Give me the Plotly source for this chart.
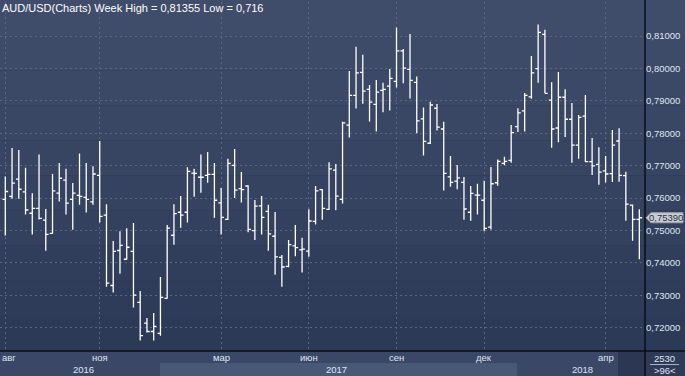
import plotly.graph_objects as go

# ---- data (weekly AUD/USD OHLC) ----
opens = [0.7596, 0.7605, 0.7658, 0.7619, 0.7553, 0.7568, 0.7532, 0.7491, 0.7615, 0.7655,
         0.7596, 0.7608, 0.7602, 0.7588, 0.7670, 0.7547, 0.7330, 0.7438, 0.7411, 0.7435,
         0.7278, 0.7214, 0.7188, 0.7182, 0.7290, 0.7485, 0.7556, 0.7556, 0.7677, 0.7664,
         0.7670, 0.7673, 0.7585, 0.7534, 0.7701, 0.7629, 0.7637, 0.7499, 0.7576, 0.7559,
         0.7482, 0.7417, 0.7389, 0.7452, 0.7440, 0.7436, 0.7528, 0.7626, 0.7565, 0.7686,
         0.7596, 0.7825, 0.7917, 0.7988, 0.7935, 0.7889, 0.7932, 0.7945, 0.7960, 0.8054,
         0.7997, 0.7957, 0.7844, 0.7769, 0.7877, 0.7813, 0.7665, 0.7652, 0.7648, 0.7556,
         0.7609, 0.7593, 0.7510, 0.7647, 0.7707, 0.7716, 0.7820, 0.7869, 0.7912, 0.7999,
         0.8105, 0.7902, 0.7816, 0.7911, 0.7843, 0.7763, 0.7853, 0.7712, 0.7704, 0.7684,
         0.7675, 0.7776, 0.7669, 0.7578, 0.7534]
highs = [0.7666, 0.7754, 0.7748, 0.7693, 0.7615, 0.7734, 0.7566, 0.7674, 0.7708, 0.7690,
         0.7646, 0.7737, 0.7708, 0.7698, 0.7776, 0.7581, 0.7467, 0.7497, 0.7507, 0.7523,
         0.7313, 0.7230, 0.7245, 0.7356, 0.7517, 0.7581, 0.7606, 0.7695, 0.7690, 0.7734,
         0.7742, 0.7708, 0.7631, 0.7721, 0.7751, 0.7680, 0.7639, 0.7594, 0.7606, 0.7579,
         0.7557, 0.7424, 0.7470, 0.7517, 0.7477, 0.7565, 0.7637, 0.7627, 0.7710, 0.7705,
         0.7835, 0.7992, 0.8067, 0.8042, 0.7949, 0.7964, 0.7956, 0.7998, 0.8126, 0.8060,
         0.8106, 0.7975, 0.7879, 0.7897, 0.7890, 0.7835, 0.7730, 0.7702, 0.7665, 0.7637,
         0.7644, 0.7653, 0.7696, 0.7719, 0.7727, 0.7825, 0.7877, 0.7924, 0.8038, 0.81355,
         0.8119, 0.7957, 0.7989, 0.7936, 0.7893, 0.7856, 0.7918, 0.7785, 0.7757, 0.7730,
         0.7810, 0.7815, 0.7681, 0.7580, 0.7565]
lows = [0.7484, 0.7598, 0.7598, 0.7549, 0.7487, 0.7534, 0.7437, 0.7490, 0.7589, 0.7549,
        0.7502, 0.7579, 0.7555, 0.7579, 0.7524, 0.7326, 0.7308, 0.7366, 0.7410, 0.7262,
        0.7160, 0.7185, 0.7160, 0.7175, 0.7289, 0.7456, 0.7508, 0.7524, 0.7604, 0.7616,
        0.7647, 0.7539, 0.7487, 0.7532, 0.7600, 0.7586, 0.7494, 0.7470, 0.7487, 0.7437,
        0.7363, 0.7326, 0.7386, 0.7420, 0.7370, 0.7419, 0.7518, 0.7533, 0.7563, 0.7562,
        0.7583, 0.7787, 0.7876, 0.7891, 0.7836, 0.7805, 0.7865, 0.7870, 0.7941, 0.7954,
        0.7907, 0.7800, 0.7731, 0.7767, 0.7808, 0.7623, 0.7635, 0.7627, 0.7533, 0.7530,
        0.7549, 0.7497, 0.7503, 0.7638, 0.7701, 0.7709, 0.7804, 0.7805, 0.7906, 0.7956,
        0.7923, 0.7755, 0.7772, 0.7788, 0.7709, 0.7721, 0.7711, 0.7671, 0.7641, 0.7648,
        0.7649, 0.7650, 0.7530, 0.7468, 0.7411]
closes = [0.7620, 0.7646, 0.7627, 0.7563, 0.7568, 0.7537, 0.7488, 0.7622, 0.7661, 0.7584,
          0.7615, 0.7605, 0.7596, 0.7674, 0.7543, 0.7337, 0.7435, 0.7454, 0.7448, 0.7300,
          0.7175, 0.7188, 0.7204, 0.7293, 0.7507, 0.7552, 0.7547, 0.7682, 0.7676, 0.7664,
          0.7673, 0.7593, 0.7540, 0.7707, 0.7624, 0.7626, 0.7503, 0.7575, 0.7540, 0.7489,
          0.7418, 0.7387, 0.7456, 0.7447, 0.7442, 0.7529, 0.7622, 0.7568, 0.7690, 0.7606,
          0.7832, 0.7917, 0.7986, 0.7930, 0.7896, 0.7927, 0.7935, 0.7969, 0.8054, 0.8001,
          0.7963, 0.7838, 0.7775, 0.7887, 0.7819, 0.7676, 0.7648, 0.7662, 0.7566, 0.7614,
          0.7609, 0.7506, 0.7644, 0.7713, 0.7713, 0.7802, 0.7863, 0.7917, 0.7986, 0.8111,
          0.7923, 0.7813, 0.7911, 0.7843, 0.7763, 0.7849, 0.7712, 0.7699, 0.7680, 0.7674,
          0.7763, 0.7670, 0.7581, 0.7534, 0.7539]
weeks = list(range(len(opens)))

month_idx = [0, 14, 32, 45, 58, 71, 89]
month_labels = ["авг", "ноя", "мар", "июн", "сен", "дек", "апр"]
year_labels = ["2016", "2017", "2018"]
price_ticks = [0.72, 0.73, 0.74, 0.75, 0.76, 0.77, 0.78, 0.79, 0.80, 0.81]
price_ticktext = ["0,72000", "0,73000", "0,74000", "0,75000", "0,76000",
                  "0,77000", "0,78000", "0,79000", "0,80000", "0,81000"]
last_price_text = "0,75390"
title_text = "AUD/USD(Charts) Week High = 0,81355 Low = 0,716"

# ---- layout geometry helpers (pixels -> paper) ----
W, H = 685, 376
ML, MR, MT, MB = 0, 40, 2, 25
PW, PH = W - ML - MR, H - MT - MB
def px(x):
    return (x - ML) / PW
def py(y):
    return (H - MB - y) / PH

FONT = "Liberation Sans, Arial, sans-serif"
TXT = "#dfe6f2"
GRID = "#5a6784"

fig = go.Figure(go.Ohlc(
    x=weeks, open=opens, high=highs, low=lows, close=closes,
    increasing=dict(line=dict(color="white", width=1.3)),
    decreasing=dict(line=dict(color="white", width=1.3)),
    tickwidth=0.42, hoverinfo="skip", showlegend=False,
))

shapes = []
# stepped vertical gradient background (plot + right axis)
grad = ["#3f4c6a", "#3d4a68", "#3b4866", "#394664", "#374462", "#354260",
        "#33405e", "#313e5b", "#2f3c59", "#2d3a57"]
n = len(grad)
for i, c in enumerate(grad):
    y0 = 0 + i * (351 / n)
    y1 = 0 + (i + 1) * (351 / n)
    shapes.append(dict(type="rect", xref="paper", yref="paper", layer="below",
                       x0=px(0), x1=px(W), y0=py(y1), y1=py(y0),
                       fillcolor=c, line=dict(width=0)))
# bottom time axis bands
shapes += [
    dict(type="rect", xref="paper", yref="paper", layer="below", x0=px(0), x1=px(645),
         y0=py(376), y1=py(351), fillcolor="#3a4766", line=dict(width=0)),
    dict(type="rect", xref="paper", yref="paper", layer="below", x0=px(160), x1=px(517),
         y0=py(376), y1=py(363), fillcolor="#4a5878", line=dict(width=0)),
    dict(type="rect", xref="paper", yref="paper", layer="below", x0=px(618), x1=px(645),
         y0=py(376), y1=py(351), fillcolor="#2c3753", line=dict(width=0)),
    dict(type="rect", xref="paper", yref="paper", layer="below", x0=px(645), x1=px(W),
         y0=py(376), y1=py(351), fillcolor="#2e3a56", line=dict(width=0)),
    # black frame lines
    dict(type="line", xref="paper", yref="paper", x0=px(645), x1=px(645),
         y0=py(376), y1=py(0), line=dict(color="#0a0e16", width=1.5)),
    dict(type="line", xref="paper", yref="paper", x0=px(0), x1=px(W),
         y0=py(351), y1=py(351), line=dict(color="#0a0e16", width=1.5)),
    # line between 2530 and >96<
    dict(type="line", xref="paper", yref="paper", x0=px(650), x1=px(679),
         y0=py(364.5), y1=py(364.5), line=dict(color="#aab4c8", width=1)),
]
# last price arrow label
lp_y = closes[-1]
shapes.append(dict(type="path", xref="paper", yref="y",
                   path=(f"M {px(646)},{lp_y} L {px(651)},{lp_y + 0.00155} "
                         f"L {px(683)},{lp_y + 0.00155} L {px(683)},{lp_y - 0.00155} "
                         f"L {px(651)},{lp_y - 0.00155} Z"),
                   fillcolor="#c9ccd3", line=dict(color="#9aa0ab", width=1)))

annotations = [
    dict(text=title_text, xref="paper", yref="paper", x=px(0), y=py(8),
         xanchor="left", yanchor="middle", showarrow=False,
         font=dict(family=FONT, size=11, color="white")),
    dict(text=last_price_text, xref="paper", yref="y", x=px(666), y=lp_y,
         xanchor="center", yanchor="middle", showarrow=False,
         font=dict(family=FONT, size=9.5, color="#2a3244")),
    dict(text="2530", xref="paper", yref="paper", x=px(664.5), y=py(358),
         xanchor="center", yanchor="middle", showarrow=False,
         font=dict(family=FONT, size=9.5, color=TXT)),
    dict(text="&gt;96&lt;", xref="paper", yref="paper", x=px(664.5), y=py(370.5),
         xanchor="center", yanchor="middle", showarrow=False,
         font=dict(family=FONT, size=9.5, color=TXT)),
]
for i, lab in zip(month_idx, month_labels):
    first = (i == month_idx[0])
    annotations.append(dict(text=lab, xref="paper" if first else "x", yref="paper",
                            x=px(0) if first else i, y=py(357),
                            xanchor="left" if first else "center", yanchor="middle",
                            showarrow=False,
                            font=dict(family=FONT, size=9.5, color=TXT)))
for xp, lab in zip([83, 337, 582], year_labels):
    annotations.append(dict(text=lab, xref="paper", yref="paper", x=px(xp), y=py(369.5),
                            xanchor="center", yanchor="middle", showarrow=False,
                            font=dict(family=FONT, size=9.5, color=TXT)))

spacing = 6.745
x_lo = -5.3 / spacing
x_hi = x_lo + PW / spacing
pxv = 3240.0
y_hi = 0.81 + (36 - MT) / pxv
y_lo = y_hi - PH / pxv

fig.update_layout(
    width=W, height=H, margin=dict(l=ML, r=MR, t=MT, b=MB),
    paper_bgcolor="#27324c", plot_bgcolor="rgba(0,0,0,0)",
    shapes=shapes, annotations=annotations,
    xaxis=dict(range=[x_lo, x_hi], tickvals=month_idx, showticklabels=False,
               showgrid=True, gridcolor=GRID, griddash="2px,3px", gridwidth=1,
               zeroline=False, ticks="", showline=False, rangeslider=dict(visible=False),
               fixedrange=True),
    yaxis=dict(range=[y_lo, y_hi], side="right", tickvals=price_ticks, ticktext=price_ticktext,
               showgrid=True, gridcolor=GRID, griddash="2px,3px", gridwidth=1,
               zeroline=False, ticks="", showline=False,
               tickfont=dict(family=FONT, size=9.5, color=TXT), fixedrange=True),
)

fig.write_html("out.html", config={"displayModeBar": False},
               post_script="document.body.style.margin='0';document.body.style.overflow='hidden';")
